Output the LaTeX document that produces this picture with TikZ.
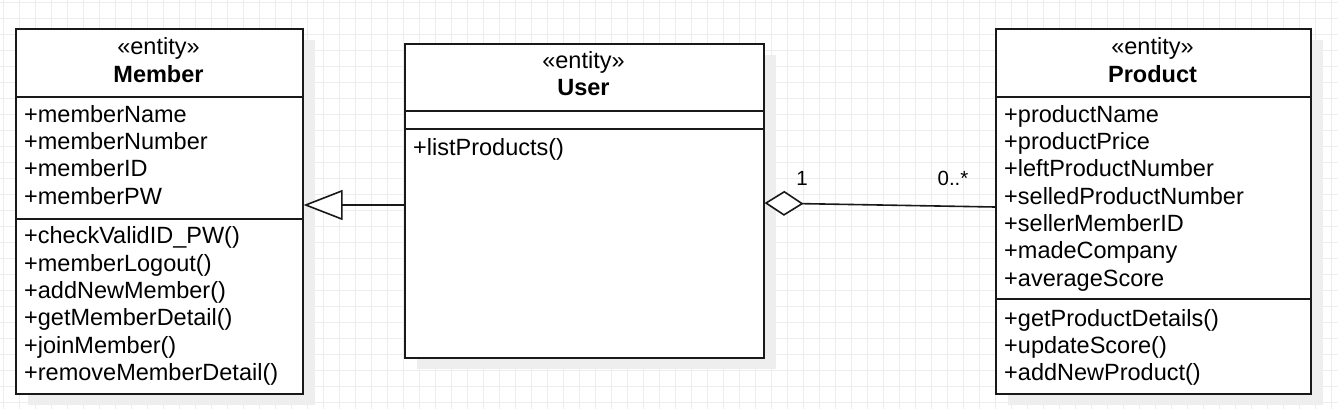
\documentclass[tikz,border=0pt]{standalone}
\usepackage{fontspec}
\setmainfont{Liberation Sans}
\usetikzlibrary{arrows.meta,shadows}
\definecolor{gridc}{HTML}{EDEDED}
\definecolor{shadowc}{HTML}{EEEEEE}
\begin{document}
\begin{tikzpicture}[x=1pt,y=-1pt,
  classbox/.style={draw=black!90,line width=1.6pt,fill=white,rectangle,anchor=north west,inner sep=0pt,
     drop shadow={shadow xshift=12pt,shadow yshift=-11pt,fill=shadowc,opacity=1}},
  divider/.style={draw=black!90,line width=1.6pt},
  txt/.style={inner sep=0pt,font=\fontsize{23.5}{27.3}\selectfont},
  attr/.style={txt,anchor=base west},
  stereo/.style={txt,anchor=base},
  cname/.style={txt,anchor=base,font=\fontsize{23.5}{27.3}\selectfont\bfseries},
  mult/.style={inner sep=0pt,anchor=base,font=\fontsize{20.5}{24}\selectfont},
  conn/.style={draw=black!90,line width=1.6pt}
]
\useasboundingbox (0,0) rectangle (1338,409);
\fill[white] (0,0) rectangle (1338,409);
% grid
\foreach \i in {0,...,83} \draw[gridc,line width=1pt] ({3.3+16*\i},0) -- ++(0,409);
\foreach \j in {0,...,25} \draw[gridc,line width=1pt] (0,{2.7+16*\j}) -- ++(1338,0);

% boxes
\node[classbox,minimum width=287pt,minimum height=365pt] (member) at (15,28) {};
\node[classbox,minimum width=359pt,minimum height=314pt] (user) at (404,43) {};
\node[classbox,minimum width=315pt,minimum height=365pt] (product) at (995,28) {};

% dividers
\draw[divider] (member.west |- 0,97) -- (member.east |- 0,97);
\draw[divider] (member.west |- 0,219) -- (member.east |- 0,219);
\draw[divider] (user.west |- 0,111) -- (user.east |- 0,111);
\draw[divider] (user.west |- 0,129) -- (user.east |- 0,129);
\draw[divider] (product.west |- 0,97) -- (product.east |- 0,97);
\draw[divider] (product.west |- 0,299) -- (product.east |- 0,299);

% Member
\node[stereo] (mst) at (158.5,55) {«entity»};
\node[cname] (mname) at (158.5,82.5) {Member};
\foreach [count=\i] \t in {memberName,memberNumber,memberID,memberPW}
  \node[attr] (ma\i) at (24,{122.3+27.3*(\i-1)}) {+\t};
\foreach [count=\i] \t in {checkValidID\_PW(),memberLogout(),addNewMember(),getMemberDetail(),joinMember(),removeMemberDetail()}
  \node[attr] (mm\i) at (24,{243.8+27.3*(\i-1)}) {+\t};

% User
\node[stereo] (ust) at (583.5,68.5) {«entity»};
\node[cname] (uname) at (583.5,95.8) {User};
\node[attr] (um1) at (413,155) {+listProducts()};

% Product
\node[stereo] (pst) at (1152.5,55) {«entity»};
\node[cname] (pname) at (1152.5,82.5) {Product};
\foreach [count=\i] \t in {productName,productPrice,leftProductNumber,selledProductNumber,sellerMemberID,madeCompany,averageScore}
  \node[attr] (pa\i) at (1004,{122.3+27.3*(\i-1)}) {+\t};
\foreach [count=\i] \t in {getProductDetails(),updateScore(),addNewProduct()}
  \node[attr] (pm\i) at (1004,{326.3+27.3*(\i-1)}) {+\t};

% generalization User -> Member
\draw[conn,-{Triangle[open,length=39pt,width=30pt,fill=white]}] (user.west |- 0,205) -- (member.east |- 0,205);

% aggregation User <>-- Product
\draw[conn,{Diamond[open,length=39pt,width=25pt,fill=white]}-] (user.east |- 0,203) -- (product.west |- 0,207);
\node[mult] (m1) at (802,185) {1};
\node[mult] (m2) at (953,185) {0..*};
\end{tikzpicture}
\end{document}
